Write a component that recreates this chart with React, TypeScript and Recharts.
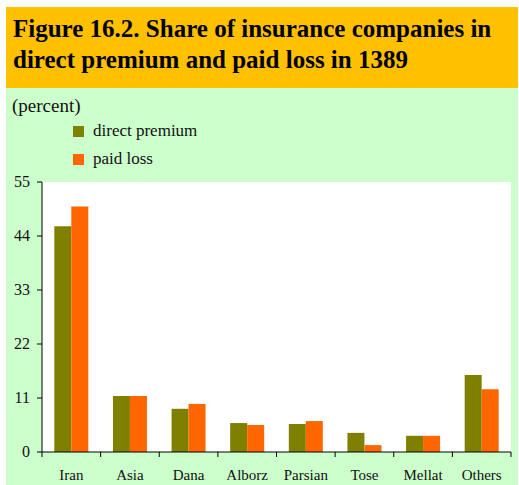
import { BarChart, Bar, XAxis, YAxis, CartesianGrid } from 'recharts';

const companies = ['Iran', 'Asia', 'Dana', 'Alborz', 'Parsian', 'Tose', 'Mellat', 'Others'];
const directPremium = [46.0, 11.4, 8.8, 5.9, 5.7, 3.9, 3.3, 15.7];
const paidLoss = [50.0, 11.4, 9.8, 5.5, 6.3, 1.4, 3.3, 12.8];
const yTicks = [0, 11, 22, 33, 44, 55];

const data = companies.map((name, i) => ({
  name,
  direct: directPremium[i],
  loss: paidLoss[i],
}));

const SERIF = '"Liberation Serif", "Times New Roman", serif';

const CategoryTick = (props: any) => {
  const { x, y, payload, index, visibleTicksCount } = props;
  const half = payload && payload.offset ? payload.offset : 29.3;
  const axisY = y - 8;
  return (
    <g>
      <line x1={x - half} y1={axisY} x2={x - half} y2={axisY + 5} stroke="#000" />
      {index === visibleTicksCount - 1 && (
        <line x1={x + half} y1={axisY} x2={x + half} y2={axisY + 5} stroke="#000" />
      )}
      <text x={x} y={axisY + 28} textAnchor="middle" fill="#111" style={{ fontFamily: SERIF, fontSize: 15 }}>
        {payload.value}
      </text>
    </g>
  );
};

const ValueTick = (props: any) => {
  const { x, y, payload } = props;
  return (
    <text x={x} y={y + 5} textAnchor="end" fill="#111" style={{ fontFamily: SERIF, fontSize: 16 }}>
      {payload.value}
    </text>
  );
};

const LegendBox = () => (
  <div style={{ position: 'absolute', left: 0, top: 7, fontFamily: SERIF, color: '#111' }}>
    <div style={{ fontSize: 19, marginLeft: 6 }}>(percent)</div>
    <div style={{ marginLeft: 67, marginTop: 0, fontSize: 17, lineHeight: '28px' }}>
      <div style={{ display: 'flex', alignItems: 'center' }}>
        <span style={{ width: 11, height: 11, background: '#808000', marginRight: 9 }} />
        direct premium
      </div>
      <div style={{ display: 'flex', alignItems: 'center' }}>
        <span style={{ width: 11, height: 11, background: '#FF6600', marginRight: 9 }} />
        paid loss
      </div>
    </div>
  </div>
);

export default function App() {
  return (
    <div style={{ position: 'absolute', left: 6, top: 7, width: 512, height: 478, fontFamily: SERIF }}>
      <div
        style={{
          background: '#FFC000',
          height: 81,
          boxSizing: 'border-box',
          padding: '6px 0 0 7px',
          fontWeight: 'bold',
          fontSize: 25,
          lineHeight: '31px',
          color: '#000',
        }}
      >
        Figure 16.2. Share of insurance companies in
        <br />
        direct premium and paid loss in 1389
      </div>
      <div style={{ background: '#CCFFCC', width: 512, height: 397, position: 'relative' }}>
        <BarChart
          width={512}
          height={397}
          data={data}
          margin={{ top: 94, right: 7, bottom: 3, left: 6 }}
          barCategoryGap="21%"
          barGap={0}
        >
          <CartesianGrid fill="#fff" horizontal={false} vertical={false} />
          <XAxis
            dataKey="name"
            height={30}
            axisLine={{ stroke: '#000' }}
            tickLine={false}
            tick={<CategoryTick />}
            interval={0}
          />
          <XAxis xAxisId="top" dataKey="name" orientation="top" height={0} tick={false} tickLine={false} axisLine={{ stroke: '#000' }} />
          <YAxis
            domain={[0, 55]}
            ticks={yTicks}
            width={30}
            tickSize={5}
            tickMargin={7}
            axisLine={{ stroke: '#000' }}
            tickLine={{ stroke: '#000' }}
            tick={<ValueTick />}
          />
          <YAxis yAxisId="right" orientation="right" width={0} tick={false} tickLine={false} axisLine={{ stroke: '#000' }} />
          <Bar dataKey="direct" name="direct premium" fill="#808000" isAnimationActive={false} />
          <Bar dataKey="loss" name="paid loss" fill="#FF6600" isAnimationActive={false} />
        </BarChart>
        <LegendBox />
      </div>
    </div>
  );
}
